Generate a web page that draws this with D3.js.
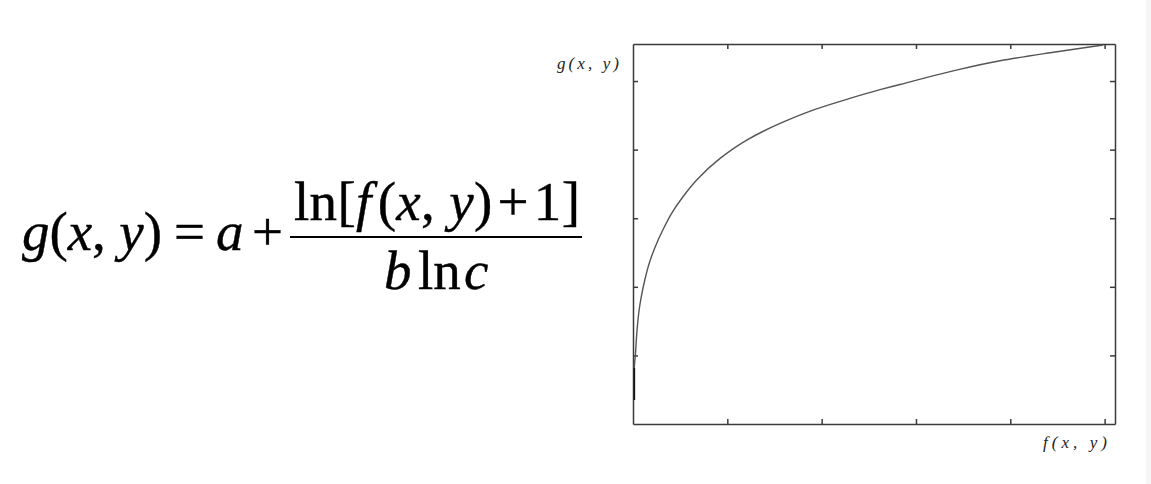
<!DOCTYPE html>
<html>
<head>
<meta charset="utf-8">
<script src="https://cdn.jsdelivr.net/npm/d3@7/dist/d3.min.js"></script>
<style>
  html, body { margin: 0; padding: 0; background: #fff; }
  svg { display: block; }
</style>
</head>
<body>
<svg id="chart" width="1151" height="484"></svg>
<script>
// ---- data (abstract units, ticks at 1..5) ----
const fValues = [0.014, 0.014, 0.024, 0.043, 0.065, 0.088, 0.125, 0.173, 0.236, 0.316, 0.411, 0.530, 0.675, 0.923, 1.206, 1.559, 1.909, 2.266, 2.619, 2.831, 3.362, 3.892, 4.422, 4.984];
const gValues = [0.350, 0.816, 0.981, 1.370, 1.662, 1.856, 2.099, 2.347, 2.585, 2.828, 3.076, 3.313, 3.557, 3.873, 4.140, 4.383, 4.577, 4.733, 4.874, 4.950, 5.138, 5.296, 5.412, 5.525];
const xTicks = [1, 2, 3, 4, 5];
const yTicks = [1, 2, 3, 4, 5];
const xDomain = [0, 5.11];
const yDomain = [0, 5.54];
const xLabel = "f(x, y)";
const yLabel = "g(x, y)";

(function () {
const svg = d3.select("#chart");

// faint strip at the right edge
svg.append("rect").attr("x", 1146).attr("y", 0).attr("width", 5).attr("height", 484).attr("fill", "#f6f6f6");

// ---- formula ----
const serif = "'Liberation Serif', 'Times New Roman', serif";
const fs = 55;
function T(xp, yp) {
  return svg.append("text").attr("font-family", serif).attr("font-size", fs).attr("fill", "#000")
    .attr("stroke", "#000").attr("stroke-width", 0.4).attr("x", xp).attr("y", yp);
}
const f1 = T(22, 250);
f1.append("tspan").attr("font-style", "italic").text("g");
f1.append("tspan").text("(");
f1.append("tspan").attr("font-style", "italic").text("x");
f1.append("tspan").text(", ");
f1.append("tspan").attr("font-style", "italic").text("y");
f1.append("tspan").text(")");
f1.attr("textLength", 140).attr("lengthAdjust", "spacing");

T(174, 250).text("=");
T(216, 250).attr("font-style", "italic").text("a");
T(252, 250).text("+");

svg.append("line").attr("x1", 290).attr("x2", 582).attr("y1", 237).attr("y2", 237)
  .attr("stroke", "#000").attr("stroke-width", 2.2);

const num = T(294, 220);
num.append("tspan").text("ln[");
num.append("tspan").attr("font-style", "italic").text("f");
num.append("tspan").attr("dx", 6).text("(");
num.append("tspan").attr("font-style", "italic").text("x");
num.append("tspan").text(", ");
num.append("tspan").attr("font-style", "italic").text("y");
num.append("tspan").text(")");
num.append("tspan").attr("dx", 5).text("+");
num.append("tspan").attr("dx", 5).text("1]");
num.attr("textLength", 286).attr("lengthAdjust", "spacing");

const den = T(384, 289);
den.append("tspan").attr("font-style", "italic").text("b");
den.append("tspan").attr("x", 418).text("ln");
den.append("tspan").attr("x", 464).attr("font-style", "italic").text("c");

// ---- chart ----
const pLeft = 633, pRight = 1115, pTop = 44, pBottom = 424;
const x = d3.scaleLinear().domain(xDomain).range([pLeft, pRight]);
const y = d3.scaleLinear().domain(yDomain).range([pBottom, pTop]);
const stroke = "#3a3a3a";

function styleAxis(g) {
  g.selectAll("path.domain").attr("stroke", stroke).attr("stroke-width", 1.5);
  g.selectAll(".tick line").attr("stroke", stroke).attr("stroke-width", 1.5);
}
svg.append("g").attr("transform", `translate(0,${pBottom})`)
  .call(d3.axisBottom(x).tickValues(xTicks).tickSize(-5).tickSizeOuter(0).tickFormat("")).call(styleAxis);
svg.append("g").attr("transform", `translate(0,${pTop})`)
  .call(d3.axisTop(x).tickValues(xTicks).tickSize(-5).tickSizeOuter(0).tickFormat("")).call(styleAxis);
svg.append("g").attr("transform", `translate(${pLeft},0)`)
  .call(d3.axisLeft(y).tickValues(yTicks).tickSize(-5).tickSizeOuter(0).tickFormat("")).call(styleAxis);
svg.append("g").attr("transform", `translate(${pRight},0)`)
  .call(d3.axisRight(y).tickValues(yTicks).tickSize(-5).tickSizeOuter(0).tickFormat("")).call(styleAxis);

const pts = fValues.map((v, i) => [v, gValues[i]]);
const line = d3.line().x(d => x(d[0])).y(d => y(d[1])).curve(d3.curveMonotoneY);
svg.append("path").datum(pts).attr("d", line).attr("fill", "none")
  .attr("stroke", "#555").attr("stroke-width", 1.4);
// darker initial vertical segment
svg.append("path").datum(pts.slice(0, 2)).attr("d", d3.line().x(d => x(d[0])).y(d => y(d[1])))
  .attr("fill", "none").attr("stroke", "#111").attr("stroke-width", 1.6);

// axis labels
svg.append("text").attr("font-family", serif).attr("font-style", "italic").attr("font-size", 17)
  .attr("x", 557).attr("y", 69).attr("textLength", 62).attr("lengthAdjust", "spacing")
  .attr("fill", "#222").text(yLabel);
svg.append("text").attr("font-family", serif).attr("font-style", "italic").attr("font-size", 17)
  .attr("x", 1043).attr("y", 448).attr("textLength", 64).attr("lengthAdjust", "spacing")
  .attr("fill", "#222").text(xLabel);
})();
</script>
</body>
</html>
